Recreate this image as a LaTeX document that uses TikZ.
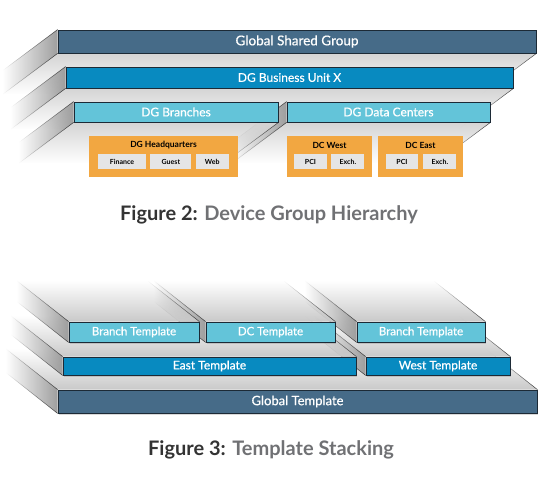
\documentclass[tikz,border=0pt]{standalone}
\usepackage{fontspec}
\setmainfont{Lato}
\newfontfamily\barfont{Lato}[FakeBold=0.6]
\usepackage{xcolor}
\usetikzlibrary{positioning, shadows, fadings, backgrounds}

\definecolor{globalblue}{RGB}{70,107,136}
\definecolor{unitblue}{RGB}{8,138,192}
\definecolor{branchcyan}{RGB}{99,196,217}
\definecolor{hqorange}{RGB}{242,167,65}
\definecolor{cellgray}{RGB}{229,229,229}
\definecolor{edgenavy}{RGB}{28,42,54}
\definecolor{captiongray}{RGB}{112,113,116}
\definecolor{captiondark}{RGB}{51,51,51}

\tikzfading[name=fadeleft, left color=transparent!100, right color=transparent!0]
\tikzfading[name=fadedown, top color=transparent!0, bottom color=transparent!100]
\tikzfading[name=fadeup, top color=transparent!100, bottom color=transparent!0]

\begin{document}
\begin{tikzpicture}[x=1pt, y=-1pt,
        bar/.style={draw=edgenavy, line width=0.8pt, text=white, inner sep=0pt,
            drop shadow={shadow xshift=0.5pt, shadow yshift=-1.5pt, opacity=0.3}},
        hqbox/.style={fill=hqorange, inner sep=0pt, minimum height=41pt},
        boxtitle/.style={font=\bfseries\fontsize{8.5}{10}\selectfont, inner sep=0pt},
        cell/.style={fill=cellgray, inner sep=0pt, minimum height=15pt,
            font=\bfseries\fontsize{7}{8}\selectfont},
        sideface/.style={fill=black!38, path fading=fadeleft},
        floorface/.style={fill=black!17, path fading=fadedown},
        topface/.style={fill=black!21, path fading=fadeup},
        edgeline/.style={draw=black!80, line width=0.5pt, path fading=fadeleft},
        caption/.style={text=captiongray, inner sep=0pt,
            font=\bfseries\fontsize{20}{24}\selectfont}]
        \useasboundingbox (0,0) rectangle (554,489);

        % hierarchy bars
        \node[bar, fill=globalblue, minimum width=478pt, minimum height=23pt,
            font=\barfont\fontsize{13.5}{16}\selectfont] (global) at (297,41.5) {Global Shared Group};
        \node[bar, fill=unitblue, minimum width=447pt, minimum height=21pt,
            font=\barfont\fontsize{12}{15}\selectfont] (unit) at (289.5,77.5) {DG Business Unit X};
        \node[bar, fill=branchcyan, minimum width=203pt, minimum height=20pt,
            font=\barfont\fontsize{12}{15}\selectfont] (centers) at (388.5,112) {DG Data Centers};
        \node[bar, fill=branchcyan, minimum width=204pt, minimum height=20pt,
            font=\barfont\fontsize{12}{15}\selectfont] (branches) at (176,112) {DG Branches};

        % device groups
        \node[hqbox, minimum width=149pt] (hq) at (163.5,156.5) {};
        \node[boxtitle] (hqtitle) at (163.5,145) {DG Headquarters};
        \node[cell, minimum width=48pt] (finance) at (122,161.5) {Finance};
        \node[cell, minimum width=41pt, right=4pt of finance] (guest) {Guest};
        \node[cell, minimum width=33pt, right=4pt of guest] (web) {Web};

        \node[hqbox, minimum width=85pt] (west) at (329.5,156.5) {};
        \node[boxtitle] (westtitle) at (329.5,145) {DC West};
        \node[cell, minimum width=33pt] (westpci) at (310.5,161.5) {PCI};
        \node[cell, minimum width=33pt, right=4pt of westpci] (westexch) {Exch.};

        \node[hqbox, minimum width=85pt] (east) at (420.5,156.5) {};
        \node[boxtitle] (easttitle) at (420.5,145) {DC East};
        \node[cell, minimum width=32pt] (eastpci) at (402,161.5) {PCI};
        \node[cell, minimum width=33pt, right=5pt of eastpci] (eastexch) {Exch.};

        \node[caption] (cap2) at (269,215) {\textcolor{captiondark}{Figure 2:} Device Group Hierarchy};

        % template bars
        \node[bar, fill=globalblue, minimum width=479pt, minimum height=23pt,
            font=\barfont\fontsize{13}{16}\selectfont] (globaltpl) at (297.5,401.5) {Global Template};
        \node[bar, fill=unitblue, minimum width=144pt, minimum height=18pt,
            font=\barfont\fontsize{12}{14}\selectfont] (westtpl) at (438,366) {West Template};
        \node[bar, fill=unitblue, minimum width=293pt, minimum height=18pt,
            font=\barfont\fontsize{12}{14}\selectfont] (easttpl) at (209.5,366) {East Template};
        \node[bar, fill=branchcyan, minimum width=128pt, minimum height=20pt,
            font=\barfont\fontsize{11.5}{14}\selectfont] (branchright) at (421,332) {Branch Template};
        \node[bar, fill=branchcyan, minimum width=129pt, minimum height=20pt,
            font=\barfont\fontsize{11.5}{14}\selectfont] (dctpl) at (270.5,332) {DC Template};
        \node[bar, fill=branchcyan, minimum width=130pt, minimum height=20pt,
            font=\barfont\fontsize{11.5}{14}\selectfont] (branchleft) at (134,332) {Branch Template};

        \node[caption] (cap3) at (271,450) {\textcolor{captiondark}{Figure 3:} Template Stacking};

        % slab faces behind the bars
        \begin{scope}[on background layer]
            \foreach \n in {global, unit, centers, branches} {
                \fill[floorface] (\n.south west) -- (\n.south east) -- ++(-55,41)
                    -- ([shift={(-55,41)}]\n.south west) -- cycle;
                \fill[sideface] (\n.north west) -- (\n.south west) -- ++(-55,41)
                    -- ([shift={(-55,41)}]\n.north west) -- cycle;
                \draw[edgeline] (\n.north west) -- ++(-55,41);
                \draw[edgeline] (\n.south west) -- ++(-55,41);
                \draw[edgeline] (\n.south east) -- ++(-55,41);
            }
            \foreach \n in {globaltpl, westtpl, easttpl, branchright, dctpl, branchleft} {
                \fill[topface] (\n.north west) -- (\n.north east) -- ++(-52,-41)
                    -- ([shift={(-52,-41)}]\n.north west) -- cycle;
                \fill[sideface] (\n.north west) -- (\n.south west) -- ++(-52,-41)
                    -- ([shift={(-52,-41)}]\n.north west) -- cycle;
                \draw[edgeline] (\n.north west) -- ++(-52,-41);
                \draw[edgeline] (\n.south west) -- ++(-52,-41);
                \draw[edgeline] (\n.north east) -- ++(-52,-41);
            }
        \end{scope}
    \end{tikzpicture}
\end{document}
